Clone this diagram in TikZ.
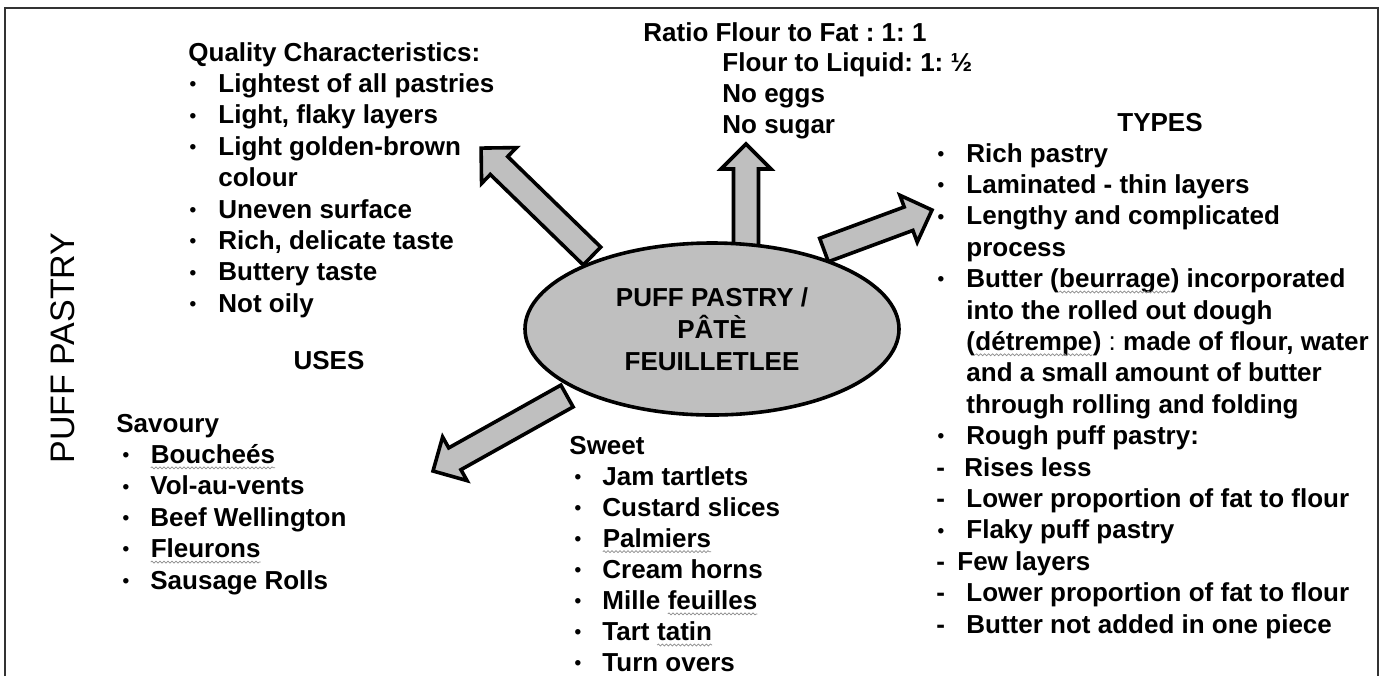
\documentclass[tikz,border=0pt]{standalone}
\usepackage{fontspec}
\setmainfont{Liberation Sans}
\usetikzlibrary{shapes.geometric,decorations.pathmorphing}

\definecolor{pastrygray}{gray}{0.75}
\newcommand{\spell}[1]{\tikz[baseline=(w.base)]{\node[inner sep=0pt, outer sep=0pt] (w) {#1};
  \draw[black!45, line width=0.35pt, decorate, decoration={snake, amplitude=0.5pt, segment length=2pt}]
    ([yshift=-2.2pt]w.base west) -- ([yshift=-2.2pt]w.base east);}}
\newcommand{\bul}[1][15pt]{\makebox[#1][l]{\hspace{0.6pt}\raisebox{0.9pt}{\fontsize{9.5}{9.5}\selectfont\textbullet}}}
\newcommand{\dsh}[1][15pt]{\makebox[#1][l]{-}}
\newcommand{\gap}{\hspace*{15pt}}
\newcommand{\blockarrow}[2]{%
  \path (#1); \pgfgetlastxy{\arrax}{\arrayy}%
  \path (#2); \pgfgetlastxy{\arrbx}{\arrby}%
  \pgfmathsetmacro{\arrang}{atan2(\arrby-\arrayy,\arrbx-\arrax)}%
  \pgfmathsetmacro{\arrlen}{veclen(\arrbx-\arrax,\arrby-\arrayy)}%
  \draw[fatarrow, shift={(#1)}, rotate=\arrang]
    (0pt,-6.25pt) -- ({\arrlen*1pt-12.5pt},-6.25pt) -- ({\arrlen*1pt-12.5pt},-12.5pt)
    -- ({\arrlen*1pt},0pt) -- ({\arrlen*1pt-12.5pt},12.5pt) -- ({\arrlen*1pt-12.5pt},6.25pt)
    -- (0pt,6.25pt) -- cycle;
}

\begin{document}
\frenchspacing
\begin{tikzpicture}[x=0.5pt, y=-0.5pt,
  txt/.style={font=\bfseries\fontsize{13}{15.7}\selectfont, inner sep=0pt, anchor=base west},
  head/.style={txt, anchor=base},
  fatarrow/.style={draw=black, fill=pastrygray, line width=1.8pt, line join=miter}]
\useasboundingbox (0,0) rectangle (1390,676);
\draw[black!80, line width=1pt] (5,676) -- (5,8) -- (1378,8) -- (1378,676);

\node[rotate=90, font=\fontsize{17}{20}\selectfont, inner sep=0pt] (side) at (63,348) {PUFF PASTRY};

\coordinate (qual-tail) at (592,256);
\coordinate (qual-tip) at (481,148);
\coordinate (ratio-tail) at (746,246);
\coordinate (ratio-tip) at (746,144);
\coordinate (types-tail) at (824,250);
\coordinate (types-tip) at (932,210);
\coordinate (uses-tail) at (567,396);
\coordinate (uses-tip) at (433,471);
\blockarrow{qual-tail}{qual-tip}
\blockarrow{ratio-tail}{ratio-tip}
\blockarrow{types-tail}{types-tip}
\blockarrow{uses-tail}{uses-tip}

\node[ellipse, draw, line width=1.8pt, fill=pastrygray, minimum width=187pt, minimum height=86pt,
  inner sep=0pt, align=center, font=\bfseries\fontsize{13}{16}\selectfont] (pastry) at (712,329)
  {PUFF PASTRY /\\PÂTÈ\\FEUILLETLEE};

\node[txt] (qual) at (188,61) {\begin{tabular}[t]{@{}l@{}}
Quality Characteristics:\\
\bul Lightest of all pastries\\
\bul Light, flaky layers\\
\bul Light golden-brown\\
\gap colour\\
\bul Uneven surface\\
\bul Rich, delicate taste\\
\bul Buttery taste\\
\bul Not oily
\end{tabular}};

\node[txt] (ratio) at (643,41) {Ratio Flour to Fat : 1: 1};
\node[txt] (ratiolist) at (722,71) {\begin{tabular}[t]{@{}l@{}}
Flour to Liquid: 1: ½\\
No eggs\\
No sugar
\end{tabular}};

\node[head] (types-head) at (1160,131) {TYPES};
\node[txt] (types) at (936,162) {\begin{tabular}[t]{@{}l@{}}
\bul Rich pastry\\
\bul Laminated - thin layers\\
\bul Lengthy and complicated\\
\gap process\\
\bul Butter (\spell{beurrage}) incorporated\\
\gap into the rolled out dough\\
\gap (\spell{détrempe}) {\mdseries :} made of flour, water\\
\gap and a small amount of butter\\
\gap through rolling and folding\\
\bul Rough puff pastry:\\
\dsh[14pt]Rises less\\
\dsh Lower proportion of fat to flour\\
\bul Flaky puff pastry\\
\dsh[10.5pt]Few layers\\
\dsh Lower proportion of fat to flour\\
\dsh Butter not added in one piece
\end{tabular}};

\node[head] (uses-head) at (329,369) {USES};
\node[txt] (savoury) at (116,432) {\begin{tabular}[t]{@{}l@{}}
Savoury\\
\hspace*{2.5pt}\bul[14.5pt]\spell{Boucheés}\\
\hspace*{2.5pt}\bul[14.5pt]Vol-au-vents\\
\hspace*{2.5pt}\bul[14.5pt]Beef Wellington\\
\hspace*{2.5pt}\bul[14.5pt]\spell{Fleurons}\\
\hspace*{2.5pt}\bul[14.5pt]Sausage Rolls
\end{tabular}};

\node[txt, font=\bfseries\fontsize{13}{15.55}\selectfont] (sweet) at (569,454) {\begin{tabular}[t]{@{}l@{}}
Sweet\\
\hspace*{2pt}\bul[14.5pt]Jam tartlets\\
\hspace*{2pt}\bul[14.5pt]Custard slices\\
\hspace*{2pt}\bul[14.5pt]\spell{Palmiers}\\
\hspace*{2pt}\bul[14.5pt]Cream horns\\
\hspace*{2pt}\bul[14.5pt]Mille \spell{feuilles}\\
\hspace*{2pt}\bul[14.5pt]Tart \spell{tatin}\\
\hspace*{2pt}\bul[14.5pt]Turn overs
\end{tabular}};
\end{tikzpicture}
\end{document}
